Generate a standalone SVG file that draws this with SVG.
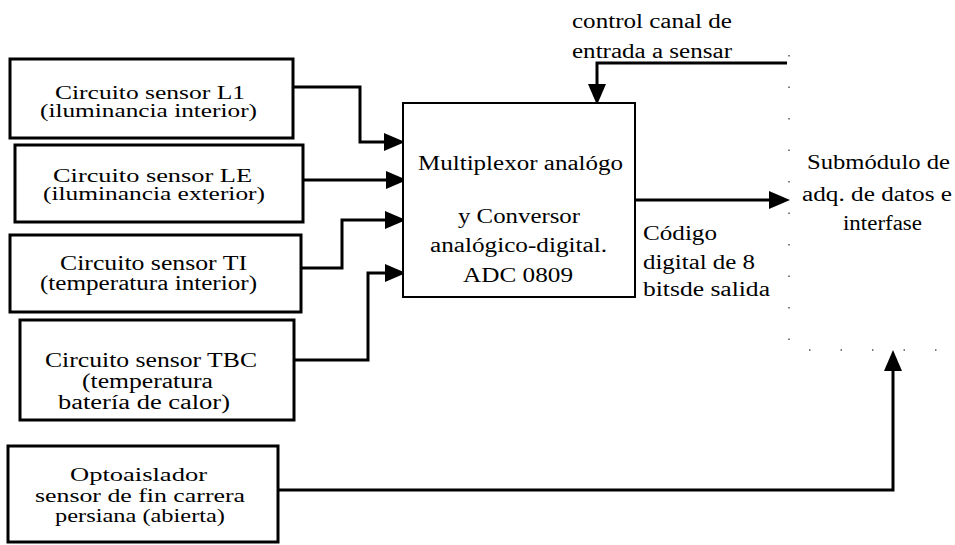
<svg xmlns="http://www.w3.org/2000/svg" width="955" height="545" viewBox="0 0 955 545">
<style>
.box{fill:#fff;stroke:#000;stroke-width:3}
.thin{fill:#fff;stroke:#000;stroke-width:2}
.t{font-family:"Liberation Serif",serif;font-size:20px;fill:#000}
.s{font-size:18px}
.c{fill:none;stroke:#000;stroke-width:3}
.ah{fill:#000}
.dot{fill:none;stroke:#555;stroke-width:1.5;stroke-dasharray:1.5 30}
</style>

<g id="connectors">
<path class="c" d="M293,87 H360 V142 H385"/>
<polygon class="ah" points="384,133 405,142 384,151"/>
<path class="c" d="M303,180 H387"/>
<polygon class="ah" points="386,171 407,180 386,189"/>
<path class="c" d="M301,268 H342 V220 H386"/>
<polygon class="ah" points="385,211 406,220 385,229"/>
<path class="c" d="M294,360 H368 V273 H386"/>
<polygon class="ah" points="385,264 406,273 385,282"/>
<path class="c" d="M787,63 H597 V85"/>
<polygon class="ah" points="588,84 597,105 606,84"/>
<path class="c" d="M635,200 H770"/>
<polygon class="ah" points="769,191 790,200 769,209"/>
<path class="c" d="M262,490 H893 V370"/>
<polygon class="ah" points="884,371 893,350 902,371"/>
</g>

<g id="n-l1">
<rect class="box" x="10" y="59" width="283" height="79"/>
<text class="t s" x="55" y="99" textLength="190" lengthAdjust="spacingAndGlyphs">Circuito sensor L1</text>
<text class="t s" x="40" y="117" textLength="217" lengthAdjust="spacingAndGlyphs">(iluminancia interior)</text>
</g>

<g id="n-le">
<rect class="box" x="15" y="145" width="288" height="77"/>
<text class="t s" x="53" y="182" textLength="199" lengthAdjust="spacingAndGlyphs">Circuito sensor LE</text>
<text class="t s" x="43" y="200" textLength="222" lengthAdjust="spacingAndGlyphs">(iluminancia exterior)</text>
</g>

<g id="n-ti">
<rect class="box" x="10" y="235" width="291" height="77"/>
<text class="t" x="60" y="270" textLength="187" lengthAdjust="spacingAndGlyphs">Circuito sensor TI</text>
<text class="t" x="40" y="290" textLength="217" lengthAdjust="spacingAndGlyphs">(temperatura interior)</text>
</g>

<g id="n-tbc">
<rect class="box" x="20" y="320" width="274" height="100"/>
<text class="t" x="45" y="367" textLength="212" lengthAdjust="spacingAndGlyphs">Circuito sensor TBC</text>
<text class="t" x="82" y="388" textLength="131" lengthAdjust="spacingAndGlyphs">(temperatura</text>
<text class="t" x="58" y="409" textLength="172" lengthAdjust="spacingAndGlyphs">batería de calor)</text>
</g>

<g id="n-opto">
<rect class="box" x="8" y="446" width="270" height="96"/>
<text class="t s" x="70" y="481" textLength="137" lengthAdjust="spacingAndGlyphs">Optoaislador</text>
<text class="t s" x="35" y="502" textLength="210" lengthAdjust="spacingAndGlyphs">sensor de fin carrera</text>
<text class="t s" x="55" y="522" textLength="170" lengthAdjust="spacingAndGlyphs">persiana (abierta)</text>
</g>

<g id="n-adc">
<rect class="thin" x="403" y="103" width="232" height="194"/>
<text class="t" x="418" y="170" textLength="205" lengthAdjust="spacingAndGlyphs">Multiplexor analógo</text>
<text class="t" x="458" y="223" textLength="122" lengthAdjust="spacingAndGlyphs">y Conversor</text>
<text class="t" x="430" y="252" textLength="177" lengthAdjust="spacingAndGlyphs">analógico-digital.</text>
<text class="t" x="463" y="282" textLength="110" lengthAdjust="spacingAndGlyphs">ADC 0809</text>
</g>

<g id="n-sub">
<path class="dot" d="M789,55 V350 H955"/>
<text class="t" x="807" y="169" textLength="143" lengthAdjust="spacingAndGlyphs">Submódulo de</text>
<text class="t" x="802" y="201" textLength="150" lengthAdjust="spacingAndGlyphs">adq. de datos e</text>
<text class="t" x="843" y="230" textLength="79" lengthAdjust="spacingAndGlyphs">interfase</text>
</g>

<g id="labels">
<text class="t" x="572" y="28" textLength="160" lengthAdjust="spacingAndGlyphs">control canal de</text>
<text class="t" x="572" y="58" textLength="160" lengthAdjust="spacingAndGlyphs">entrada a sensar</text>
<text class="t" x="643" y="240" textLength="74" lengthAdjust="spacingAndGlyphs">Código</text>
<text class="t" x="643" y="269" textLength="112" lengthAdjust="spacingAndGlyphs">digital de 8</text>
<text class="t" x="643" y="296" textLength="127" lengthAdjust="spacingAndGlyphs">bitsde salida</text>
</g>
</svg>
